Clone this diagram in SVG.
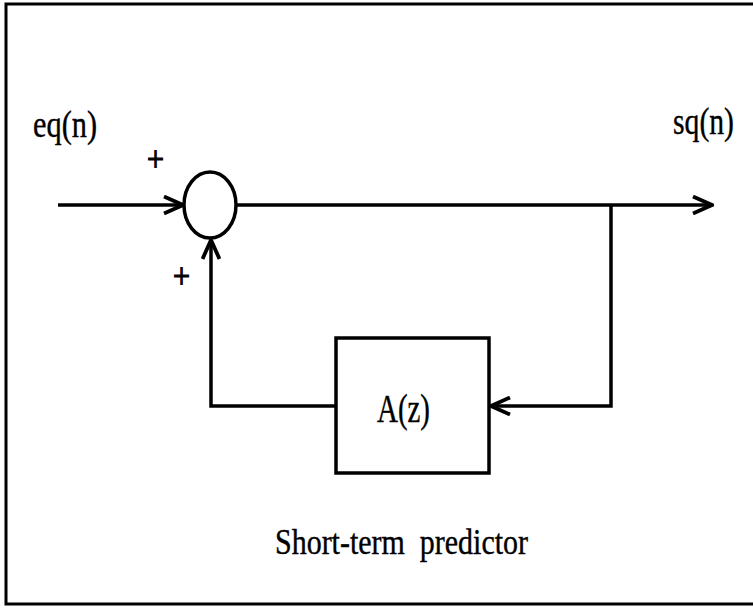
<svg xmlns="http://www.w3.org/2000/svg" width="753" height="609" viewBox="0 0 753 609">
<style>
.ln{fill:none;stroke:#000;stroke-width:3.5}
.t{font-family:"Liberation Serif",serif;fill:#000;stroke:#000;stroke-width:0.4}
.pl{stroke-width:1.2}
</style>
<defs>
<marker id="ah" viewBox="0 0 24 20" refX="22" refY="10" markerWidth="24" markerHeight="20" markerUnits="userSpaceOnUse" orient="auto">
<path d="M3,1.5 L22,10 L3,18.5" fill="none" stroke="#000" stroke-width="3.8"/>
</marker>
</defs>
<rect x="0" y="0" width="753" height="609" fill="#fff"/>
<rect x="6" y="4" width="752" height="600" fill="none" stroke="#000" stroke-width="3"/>
<g id="sum"><ellipse cx="210" cy="205" rx="26" ry="33" class="ln"/></g>
<g id="predictor"><rect x="336" y="338" width="153" height="135" class="ln"/>
<text x="377" y="422" class="t" font-size="40" textLength="53" lengthAdjust="spacingAndGlyphs">A(z)</text></g>
<g id="connectors">
<line x1="58" y1="205" x2="183" y2="205" class="ln" marker-end="url(#ah)"/>
<line x1="236" y1="205" x2="712" y2="205" class="ln" marker-end="url(#ah)"/>
<polyline points="611,205 611,406 491,406" class="ln" marker-end="url(#ah)"/>
<polyline points="336,406 211,406 211,240" class="ln" marker-end="url(#ah)"/>
</g>
<g id="labels">
<text x="33" y="137" class="t" font-size="38" textLength="64" lengthAdjust="spacingAndGlyphs">eq(n)</text>
<text x="673" y="134" class="t" font-size="38" textLength="61" lengthAdjust="spacingAndGlyphs">sq(n)</text>
<text x="147" y="171" class="t pl" font-size="36" textLength="17" lengthAdjust="spacingAndGlyphs">+</text>
<text x="173" y="288" class="t pl" font-size="36" textLength="17" lengthAdjust="spacingAndGlyphs">+</text>
<text x="275" y="554" class="t" font-size="36" textLength="253" lengthAdjust="spacingAndGlyphs" xml:space="preserve">Short-term  predictor</text>
</g>
</svg>
